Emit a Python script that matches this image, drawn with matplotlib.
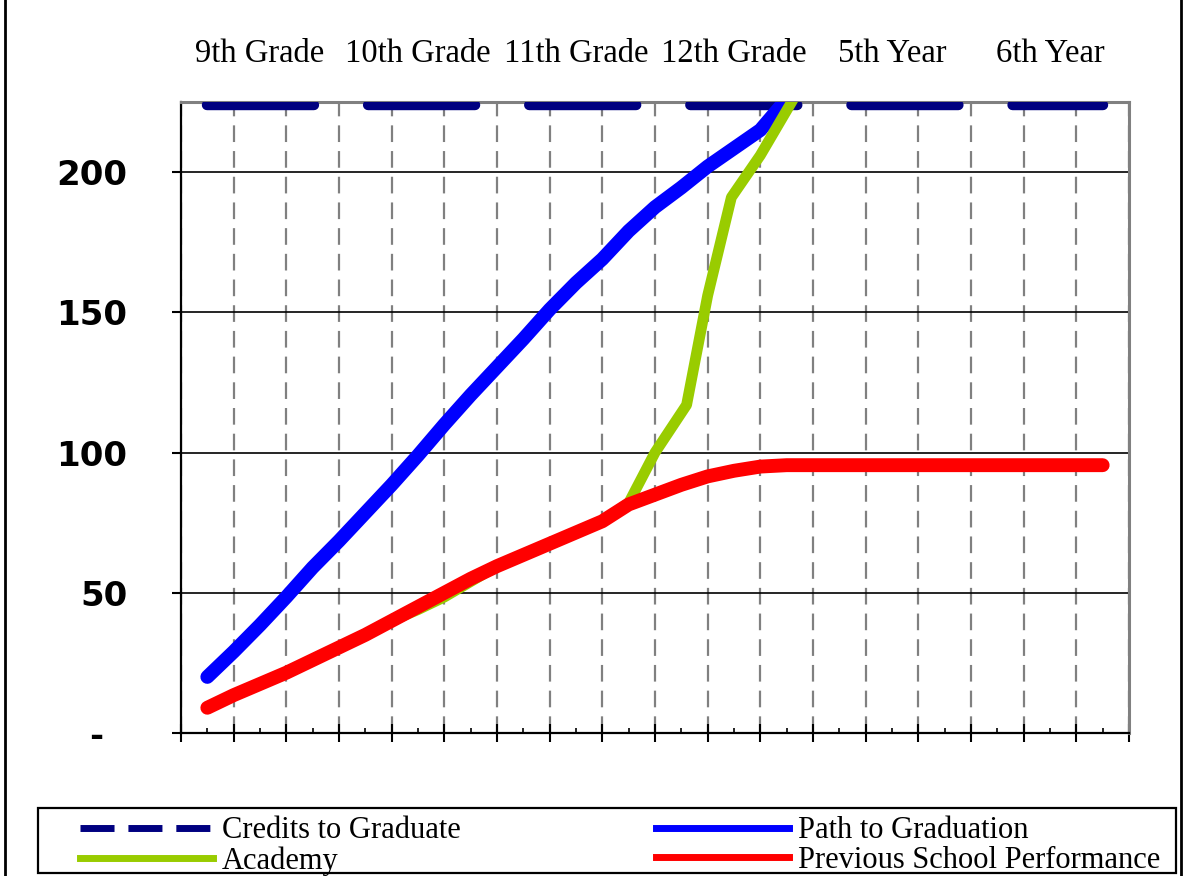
import matplotlib
matplotlib.use("Agg")

import matplotlib.pyplot as plt
from matplotlib.lines import Line2D
from matplotlib.patches import Rectangle

plt.rcParams["lines.scale_dashes"] = False

# x positions in semesters (major tick = one semester, minor tick = one term)
terms = [0.5, 1.0, 1.5, 2.0, 2.5, 3.0, 3.5, 4.0, 4.5, 5.0, 5.5, 6.0,
         6.5, 7.0, 7.5, 8.0, 8.5, 9.0, 9.5, 10.0, 10.5, 11.0, 11.5, 12.0,
         12.5, 13.0, 13.5, 14.0, 14.5, 15.0, 15.5, 16.0, 16.5, 17.0, 17.5]

credits_x = [0.5, 17.5]
credits_to_graduate = [224, 224]

path_x = terms[:23]
path_to_graduation = [20, 29, 38.5, 48.5, 59, 68.5, 78.5, 88.5, 99, 110, 120.5, 130.5,
                      140.5, 151, 160.5, 169, 179, 187.5, 194.5, 202, 208.5, 215, 226]

academy_x = terms[:17] + [9.0, 9.6, 10.0, 10.45, 11.0, 11.5, 12.0]
academy = [9, 13.5, 17.5, 21.5, 26, 30.5, 35, 40, 44, 48.5, 54, 59.5,
           63.5, 67.5, 71.5, 75.5, 82, 100, 117, 156, 191, 206, 222, 238]

previous_school = [9, 13.5, 17.5, 21.5, 26, 30.5, 35, 40, 45, 50, 55, 59.5,
                   63.5, 67.5, 71.5, 75.5, 81.5, 85, 88.5, 91.5, 93.5, 95, 95.5, 95.5,
                   95.5, 95.5, 95.5, 95.5, 95.5, 95.5, 95.5, 95.5, 95.5, 95.5, 95.5]

year_labels = ["9th Grade", "10th Grade", "11th Grade", "12th Grade", "5th Year", "6th Year"]
year_centers = [1.5, 4.5, 7.5, 10.5, 13.5, 16.5]

y_ticks = [0, 50, 100, 150, 200]
y_tick_labels = ["-  ", "50", "100", "150", "200"]

NAVY = "#000080"
BLUE = "#0000FF"
GREEN = "#99CC00"
RED = "#FF0000"

SERIF = ["Liberation Serif", "DejaVu Serif"]
SANS = ["DejaVu Sans"]

def draw_series(ax):

    ax.plot(credits_x, credits_to_graduate, color = NAVY, linewidth = 7.5,
            dashes = (77, 39), dash_capstyle = "round", zorder = 3)
    ax.plot(path_x, path_to_graduation, color = BLUE, linewidth = 10,
            solid_capstyle = "round", solid_joinstyle = "round", zorder = 4)
    ax.plot(academy_x, academy, color = GREEN, linewidth = 7.8,
            solid_capstyle = "round", solid_joinstyle = "round", zorder = 5)
    ax.plot(terms, previous_school, color = RED, linewidth = 10,
            solid_capstyle = "round", solid_joinstyle = "round", zorder = 6)

def style_axes(ax):

    ax.set_xlim(0, 18)
    ax.set_ylim(0, 225)

    ax.set_xticks(range(0, 19))
    ax.set_xticks(terms, minor = True)
    ax.set_xticklabels([])
    ax.tick_params(axis = "x", which = "major", direction = "inout", length = 13, width = 1.5)
    ax.tick_params(axis = "x", which = "minor", direction = "in", length = 3.5, width = 1.2)

    ax.set_yticks(y_ticks)
    ax.set_yticklabels(y_tick_labels, fontsize = 24.5, family = SANS, fontweight = "bold")
    ax.tick_params(axis = "y", direction = "out", length = 6.5, width = 1.5, pad = 32)

    ax.grid(axis = "y", color = "black", linewidth = 1.2)
    ax.grid(axis = "x", color = "#808080", linewidth = 1.6, linestyle = (0, (12, 6.5)))
    ax.set_axisbelow(True)

    for side in ("left", "bottom"):
        ax.spines[side].set_color("black")
        ax.spines[side].set_linewidth(1.6)
    for side in ("top", "right"):
        ax.spines[side].set_color("#808080")
        ax.spines[side].set_linewidth(2.2)

    top = ax.secondary_xaxis("top")
    top.set_xticks(year_centers)
    top.set_xticklabels(year_labels, fontsize = 23.5, family = SERIF)
    top.tick_params(length = 0, pad = 24)
    for spine in top.spines.values():
        spine.set_visible(False)

def add_legend(fig):

    handles = [
        Line2D([], [], color = NAVY, linewidth = 5, dashes = (24.5, 10)),
        Line2D([], [], color = GREEN, linewidth = 5),
        Line2D([], [], color = BLUE, linewidth = 5),
        Line2D([], [], color = RED, linewidth = 5)
        ]
    labels = [
        "Credits to Graduate",
        "Academy",
        "Path to Graduation",
        "Previous School Performance"
        ]

    fig.legend(
        handles, labels,
        ncol = 2,
        loc = "center left",
        bbox_to_anchor = (80 / 1184, 1 - 846 / 876),
        frameon = False,
        prop = {"family": SERIF, "size": 22},
        handlelength = 4.35,
        handletextpad = 0.3,
        columnspacing = 6.4,
        labelspacing = 0.02,
        borderpad = 0,
        borderaxespad = 0
        )

    fig.add_artist(Rectangle((38 / 1184, 1 - 873 / 876), (1176 - 38) / 1184, 65 / 876,
                             transform = fig.transFigure, fill = False,
                             edgecolor = "black", linewidth = 1.6))

    # outer frame lines on both sides of the sheet
    for x in (5 / 1184, 1181 / 1184):
        fig.add_artist(Line2D([x, x], [0, 1], transform = fig.transFigure,
                              color = "black", linewidth = 2))

def main():

    fig = plt.figure(figsize = (11.84, 8.76), dpi = 100)
    ax = fig.add_axes([181 / 1184, 1 - 733 / 876, (1129 - 181) / 1184, (733 - 102) / 876])

    draw_series(ax)
    style_axes(ax)
    add_legend(fig)

    fig.savefig("out.png", dpi = 100, facecolor = "white")
    plt.close(fig)

if __name__ == "__main__":
    main()
